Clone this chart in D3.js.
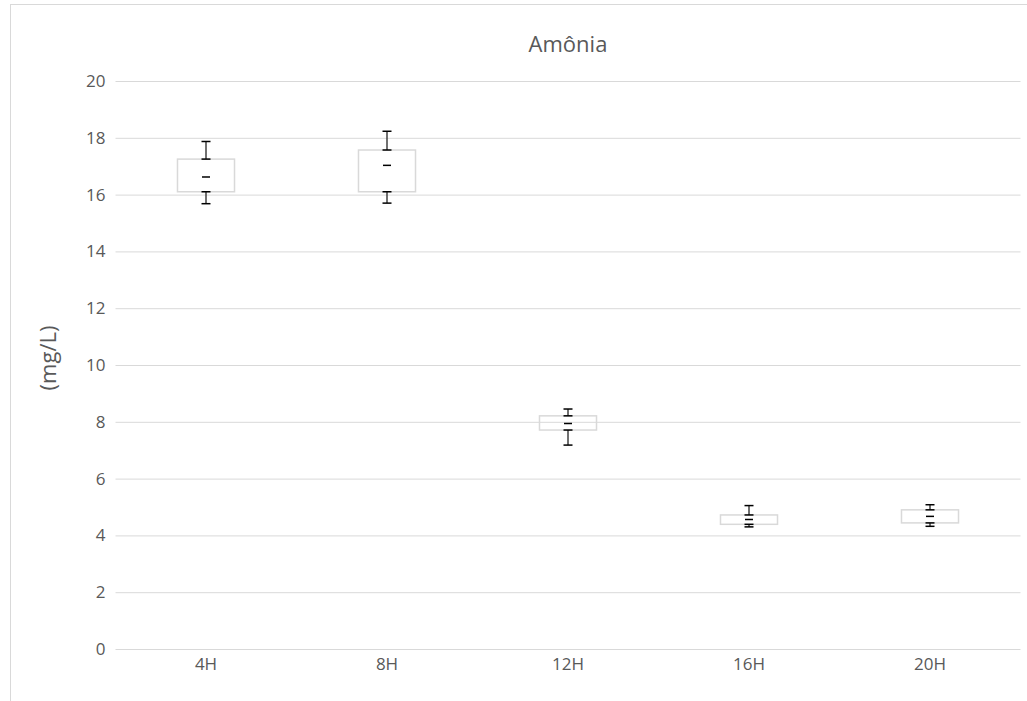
<!DOCTYPE html>
<html>
<head>
<meta charset="utf-8">
<script src="https://cdn.jsdelivr.net/npm/d3@7"></script>
<style>
  body { margin: 0; background: #fff; }
  svg text { font-family: "Open Sans", sans-serif; }
</style>
</head>
<body>
<div id="chart"></div>
<script>
// data
var categories = ['4H', '8H', '12H', '16H', '20H'];
var minValues = [15.68, 15.70, 7.18, 4.30, 4.32];
var q1Values = [16.10, 16.10, 7.71, 4.39, 4.44];
var medianValues = [16.62, 17.03, 7.94, 4.56, 4.67];
var q3Values = [17.25, 17.57, 8.21, 4.72, 4.90];
var maxValues = [17.87, 18.23, 8.45, 5.05, 5.08];
var yTicks = [0, 2, 4, 6, 8, 10, 12, 14, 16, 18, 20];

var width = 1027, height = 701;
var margin = { top: 81, right: 6.5, bottom: 52, left: 115.5 };

var svg = d3.select('#chart').append('svg')
    .attr('width', width)
    .attr('height', height)
    .style('display', 'block');

// chart area border
svg.append('rect')
    .attr('x', 10.5).attr('y', 4.5)
    .attr('width', 1030).attr('height', 720)
    .attr('fill', 'none')
    .attr('stroke', '#d9d9d9');

var x = d3.scaleBand()
    .domain(categories)
    .range([margin.left, width - margin.right])
    .paddingInner(0.685)
    .paddingOuter(0.3425);

var y = d3.scaleLinear()
    .domain([0, 20])
    .range([height - margin.bottom, margin.top]);

// gridlines + y labels
var yAxis = d3.axisLeft(y)
    .tickValues(yTicks)
    .tickSize(-(width - margin.right - margin.left))
    .tickPadding(10);
var gy = svg.append('g')
    .attr('transform', 'translate(' + margin.left + ',0)')
    .call(yAxis);
gy.select('.domain').remove();
gy.selectAll('.tick line').attr('stroke', '#d9d9d9');
gy.selectAll('.tick text')
    .attr('fill', '#595959')
    .style('font-size', '17px');

// x labels
var xAxis = d3.axisBottom(x).tickSize(0).tickPadding(9);
var gx = svg.append('g')
    .attr('transform', 'translate(0,' + (height - margin.bottom) + ')')
    .call(xAxis);
gx.select('.domain').remove();
gx.selectAll('.tick text')
    .attr('fill', '#595959')
    .style('font-size', '17px');

// boxes
var rows = categories.map(function (c, i) {
    return { cat: c, min: minValues[i], q1: q1Values[i], med: medianValues[i], q3: q3Values[i], max: maxValues[i] };
});

var g = svg.selectAll('g.box').data(rows).enter()
    .append('g').attr('class', 'box');

g.append('rect')
    .attr('x', function (d) { return x(d.cat); })
    .attr('y', function (d) { return y(d.q3); })
    .attr('width', x.bandwidth())
    .attr('height', function (d) { return y(d.q1) - y(d.q3); })
    .attr('fill', 'none')
    .attr('stroke', '#d9d9d9')
    .attr('stroke-width', 1.5);

var cap = 4.5;
function whisker(sel, from, to) {
    sel.each(function (d) {
        var cx = x(d.cat) + x.bandwidth() / 2;
        var s = d3.select(this);
        s.append('line')
            .attr('x1', cx).attr('x2', cx)
            .attr('y1', y(d[from])).attr('y2', y(d[to]))
            .attr('stroke', '#404040').attr('stroke-width', 1.5);
        [from, to].forEach(function (k) {
            s.append('line')
                .attr('x1', cx - cap).attr('x2', cx + cap)
                .attr('y1', y(d[k])).attr('y2', y(d[k]))
                .attr('stroke', '#000').attr('stroke-width', 1.5);
        });
    });
}
whisker(g, 'q3', 'max');
whisker(g, 'q1', 'min');

g.append('line')
    .attr('x1', function (d) { return x(d.cat) + x.bandwidth() / 2 - 4; })
    .attr('x2', function (d) { return x(d.cat) + x.bandwidth() / 2 + 4; })
    .attr('y1', function (d) { return y(d.med); })
    .attr('y2', function (d) { return y(d.med); })
    .attr('stroke', '#000').attr('stroke-width', 1.5);

// title
svg.append('text')
    .attr('x', 568).attr('y', 52)
    .attr('text-anchor', 'middle')
    .attr('fill', '#595959')
    .style('font-size', '22px')
    .text('Amônia');

// y axis title
svg.append('text')
    .attr('transform', 'translate(56,' + 358 + ') rotate(-90)')
    .attr('text-anchor', 'middle')
    .attr('fill', '#595959')
    .style('font-size', '22px')
    .text('(mg/L)');
</script>
</body>
</html>
